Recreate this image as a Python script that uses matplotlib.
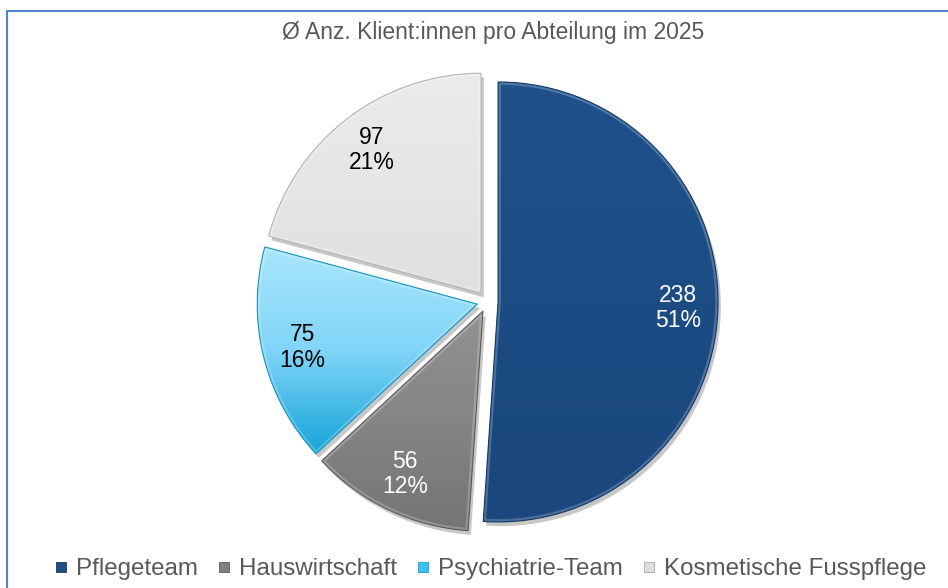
import matplotlib
matplotlib.use("Agg")
import matplotlib.pyplot as plt
import matplotlib.patheffects as pe
from matplotlib.lines import Line2D
from matplotlib.patches import PathPatch
from matplotlib.colors import LinearSegmentedColormap
import numpy as np

plt.rcParams['font.family'] = ['Liberation Sans', 'DejaVu Sans']

# --- data ---
title = "Ø Anz. Klient:innen pro Abteilung im 2025"
categories = ["Pflegeteam", "Hauswirtschaft", "Psychiatrie-Team", "Kosmetische Fusspflege"]
values = [238, 56, 75, 97]

# gradient stops per slice (top -> bottom)
slice_grads = [
    ["#20518b", "#1c4c84", "#1a477d"],
    ["#929292", "#858585", "#747474"],
    ["#aae6fc", "#80d5f8", "#14a4d8"],
    ["#ebebeb", "#e6e6e6", "#dfdfdf"],
]
edge_colors = ["#143a66", "#5a5a5a", "#1592c2", "#b4b4b4"]
label_colors = ["white", "white", "black", "black"]
legend_colors = ["#1f4e87", "#808080", "#40c0ee", "#dedede"]
legend_edges = ["#163d6b", "#5e5e5e", "#1a9bd0", "#a8a8a8"]

W, H = 948, 588
fig = plt.figure(figsize=(W / 100, H / 100), dpi=100)

# pie centre and radius in pixels
cx, cy, r = 487.5, 301.6, 220
half = 250
ax = fig.add_axes([(cx - half) / W, (H - cy - half) / H, 2 * half / W, 2 * half / H])

total = sum(values)
wedges, texts, autotexts = ax.pie(
    values, startangle=90, counterclock=False, explode=[0.048] * 4, radius=1,
    autopct=lambda p: f"{p * total / 100:.0f}\n{p:.0f}%", pctdistance=0.82,
    textprops=dict(fontsize=16.5), wedgeprops=dict(linewidth=0))

grad = np.linspace(0, 1, 256).reshape(-1, 1)
for w, stops, ec in zip(wedges, slice_grads, edge_colors):
    w.set_facecolor(stops[1])
    w.set_path_effects([pe.SimplePatchShadow(offset=(2, -3), shadow_rgbFace="#000000", alpha=0.22),
                        pe.Normal()])
    ext = w.get_path().get_extents()
    cmap = LinearSegmentedColormap.from_list("g", stops)
    im = ax.imshow(grad, cmap=cmap, extent=(ext.x0, ext.x1, ext.y0, ext.y1),
                   origin="upper", interpolation="bicubic", zorder=1.5)
    im.set_clip_path(w)
    # soft bevel: light inner rim + darker outline
    rim = PathPatch(w.get_path(), fc="none", ec="white", lw=4, alpha=0.22, zorder=1.8)
    ax.add_patch(rim)
    rim.set_clip_path(w)
    ax.add_patch(PathPatch(w.get_path(), fc="none", ec=ec, lw=0.8, zorder=1.9))

for t, c in zip(autotexts, label_colors):
    t.set_color(c)
    t.set_linespacing(1.15)

lim = half / r
ax.set_aspect("equal")
ax.set_xlim(-lim, lim)
ax.set_ylim(-lim, lim)
ax.axis("off")

fig.text(493.5 / W, 1 - 33 / H, title, ha="center", va="center", fontsize=16.5, color="#595959")

handles = [Line2D([], [], ls="none", marker="s", markersize=7, markerfacecolor=c,
                  markeredgecolor=e, markeredgewidth=0.6)
           for c, e in zip(legend_colors, legend_edges)]
fig.legend(handles, categories, loc="center", bbox_to_anchor=(491 / W, 1 - 569 / H), ncol=4,
           frameon=False, fontsize=17.35, handlelength=0.45, handletextpad=0.4,
           columnspacing=0.85, labelcolor="#595959", borderpad=0, borderaxespad=0)

# chart-area border (only top and left visible in the crop)
fig.add_artist(Line2D([6.7 / W, 6.7 / W, 1.0], [0.0, 1 - 10.8 / H, 1 - 10.8 / H],
                      transform=fig.transFigure, color="#4a86c8", lw=1.5))

fig.savefig("out.png", dpi=100)
